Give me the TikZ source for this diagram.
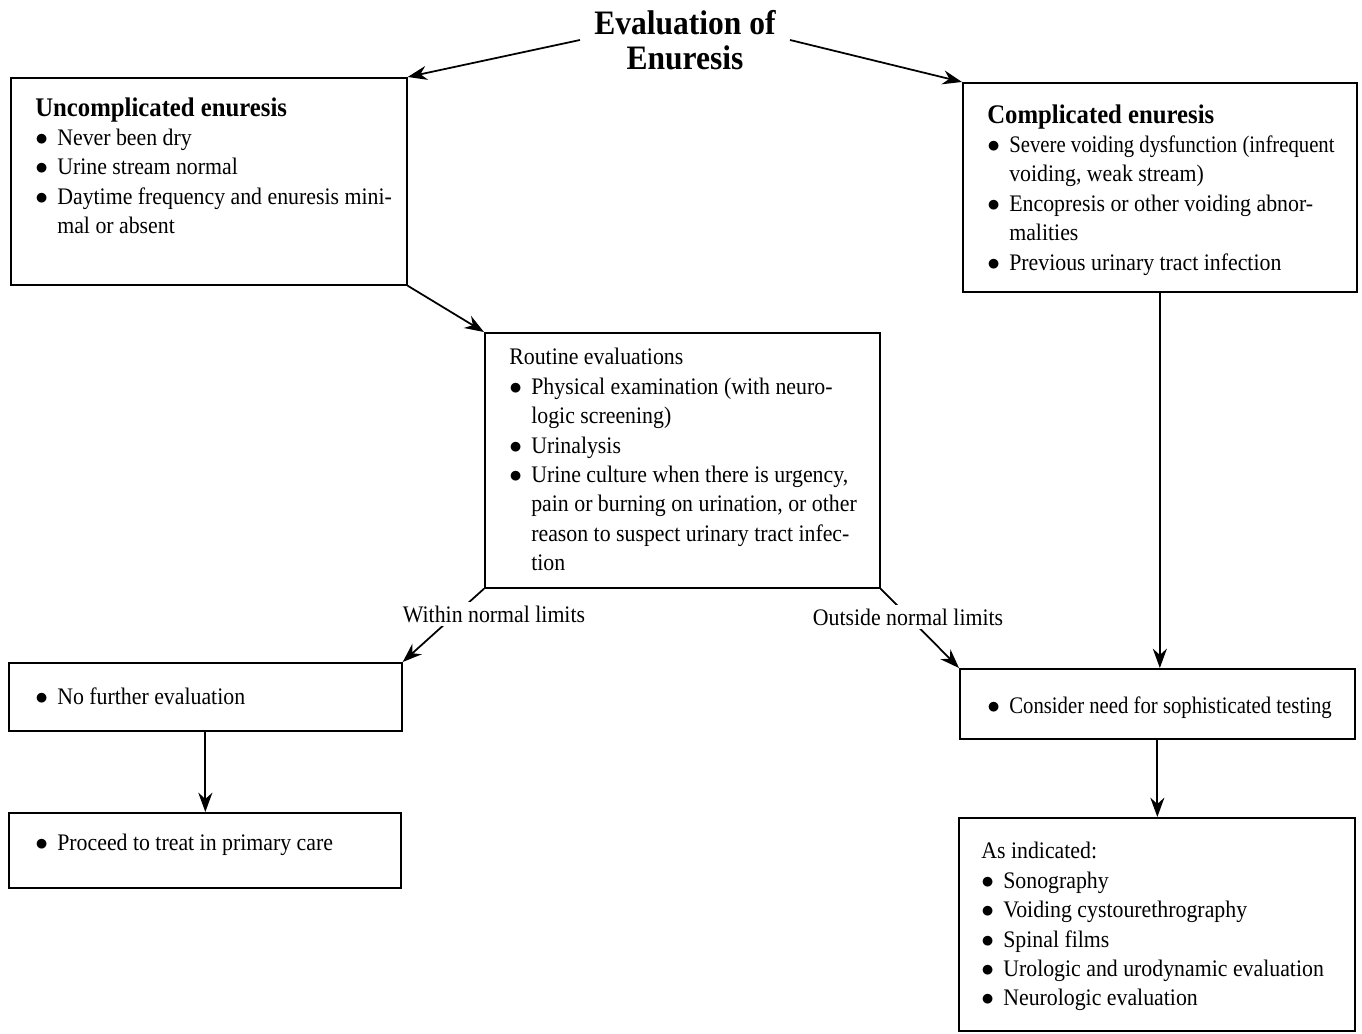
\documentclass[tikz,border=0pt]{standalone}
\usepackage{fontspec}
\usepackage{graphicx}
\setmainfont{Liberation Serif}[FakeStretch=0.92]
\usetikzlibrary{arrows.meta}

\newcommand{\bul}{\makebox[12.5pt][l]{$\bullet$}}
\newcommand{\cnt}{\hspace*{12.5pt}}
\newcommand{\hdr}[1]{{\fontsize{15.3}{16.75}\selectfont\bfseries #1}}
\newcommand{\tight}[1]{\scalebox{0.95}[1]{#1}}

\begin{document}
\begin{tikzpicture}[
  x=0.02cm, y=-0.02cm,
  every node/.style={font=\fontsize{13.5}{16.75}\selectfont},
  box/.style={draw, line width=1pt, anchor=north west, inner sep=0pt},
  txt/.style={anchor=north west, align=left, inner sep=0pt},
  lbl/.style={fill=white, inner sep=2pt},
  arr/.style={line width=1pt, -{Stealth[length=11pt, width=8pt]}}
]
  \useasboundingbox (0,0) rectangle (1362,1034);
  % title
  \node[font=\fontsize{19.5}{20}\selectfont\bfseries, align=center, inner sep=8pt]
    (title) at (685,40) {Evaluation of\\Enuresis};
  % boxes
  \node[box, minimum width=7.92cm, minimum height=4.14cm] (unc) at (10,77) {};
  \node[box, minimum width=7.88cm, minimum height=4.18cm] (comp) at (962,82) {};
  \node[box, minimum width=7.90cm, minimum height=5.10cm] (rout) at (484,332) {};
  \node[box, minimum width=7.86cm, minimum height=1.36cm] (nof) at (8,662) {};
  \node[box, minimum width=7.84cm, minimum height=1.50cm] (prim) at (8,812) {};
  \node[box, minimum width=7.90cm, minimum height=1.40cm] (soph) at (959,668) {};
  \node[box, minimum width=7.92cm, minimum height=4.26cm] (ind) at (958,817) {};

  % box texts
  \node[txt] (unc-t) at (35,97) {\hdr{Uncomplicated enuresis}\\
    \bul Never been dry\\
    \bul Urine stream normal\\
    \bul Daytime frequency and enuresis mini-\\
    \cnt mal or absent};
  \node[txt] (comp-t) at (987,104) {\hdr{Complicated enuresis}\\
    \bul \tight{Severe voiding dysfunction (infrequent}\\
    \cnt voiding, weak stream)\\
    \bul Encopresis or other voiding abnor-\\
    \cnt malities\\
    \bul Previous urinary tract infection};
  \node[txt] (rout-t) at (509,348) {Routine evaluations\\
    \bul Physical examination (with neuro-\\
    \cnt logic screening)\\
    \bul Urinalysis\\
    \bul Urine culture when there is urgency,\\
    \cnt pain or burning on urination, or other\\
    \cnt reason to suspect urinary tract infec-\\
    \cnt tion};
  \node[txt] (nof-t) at (35,687) {\bul No further evaluation};
  \node[txt] (prim-t) at (35,834) {\bul Proceed to treat in primary care};
  \node[txt] (soph-t) at (987,696) {\bul \tight{Consider need for sophisticated testing}};
  \node[txt] (ind-t) at (981,842) {As indicated:\\
    \bul Sonography\\
    \bul Voiding cystourethrography\\
    \bul Spinal films\\
    \bul Urologic and urodynamic evaluation\\
    \bul Neurologic evaluation};

  % connectors
  \draw[arr] (title.west) -- (unc.north east);
  \draw[arr] (title.east) -- (comp.north west);
  \draw[arr] (unc.south east) -- (rout.north west);
  \draw[arr] (rout.south west) -- (nof.north east);
  \draw[arr] (rout.south east) -- (soph.north west);
  \draw[arr] (nof.south) -- (nof.south |- prim.north);
  \draw[arr] (comp.south) -- (comp.south |- soph.north);
  \draw[arr] (soph.south) -- (soph.south |- ind.north);
  % branch labels
  \node[lbl] (wnl) at (494,614) {Within normal limits};
  \node[lbl] (onl) at (908,617) {Outside normal limits};
\end{tikzpicture}
\end{document}
